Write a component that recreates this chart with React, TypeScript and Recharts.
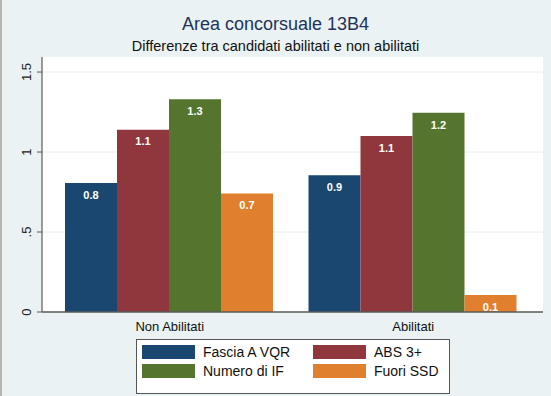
import React from 'react';
import { BarChart, Bar, XAxis, YAxis, CartesianGrid, LabelList } from 'recharts';

const categories = ['Non Abilitati', 'Abilitati'];
const fasciaA = [0.806, 0.855];
const abs3 = [1.14, 1.1];
const numeroIF = [1.33, 1.245];
const fuoriSSD = [0.74, 0.106];
const yTicks = [0, 0.5, 1, 1.5];
const yTickLabels = ['0', '.5', '1', '1.5'];

const seriesNames = ['Fascia A VQR', 'ABS 3+', 'Numero di IF', 'Fuori SSD'];
const seriesKeys = ['fasciaA', 'abs3', 'numeroIF', 'fuoriSSD'];
const seriesColors = ['#1a476f', '#8f373d', '#55752f', '#e07f2d'];

const data = categories.map((c, i) => ({
  cat: c,
  fasciaA: fasciaA[i],
  abs3: abs3[i],
  numeroIF: numeroIF[i],
  fuoriSSD: fuoriSSD[i],
}));

const FONT = '"Liberation Sans", Arial, Helvetica, sans-serif';

const YTick = (props: any) => {
  const { y, payload } = props;
  const idx = yTicks.indexOf(payload.value);
  const label = idx >= 0 ? yTickLabels[idx] : String(payload.value);
  const bx = 31;
  return (
    <text
      x={bx}
      y={y}
      transform={`rotate(-90, ${bx}, ${y})`}
      textAnchor="middle"
      fontSize={13}
      fontFamily={FONT}
      fill="#222"
    >
      {label}
    </text>
  );
};

export default function App() {
  return (
    <div
      style={{
        position: 'fixed',
        left: 0,
        top: 0,
        width: 551,
        height: 396,
        background: '#eaf2f3',
        fontFamily: FONT,
        overflow: 'hidden',
      }}
    >
      <div style={{ position: 'absolute', left: 0, top: 0, width: 2, height: 396, background: '#b5b5b5' }} />
      <div
        style={{
          position: 'absolute',
          left: 0,
          width: 551,
          top: 14,
          textAlign: 'center',
          fontSize: 18,
          color: '#1f3359',
          lineHeight: '20px',
        }}
      >
        Area concorsuale 13B4
      </div>
      <div
        style={{
          position: 'absolute',
          left: 0,
          width: 551,
          top: 38,
          textAlign: 'center',
          fontSize: 14.5,
          color: '#111',
          lineHeight: '16px',
        }}
      >
        Differenze tra candidati abilitati e non abilitati
      </div>
      <div style={{ position: 'absolute', left: 42, top: 57, width: 501, height: 255, background: '#fff' }} />
      <div style={{ position: 'absolute', left: 0, top: 0 }}>
        <BarChart
          width={551}
          height={396}
          data={data}
          margin={{ top: 57, right: 8, bottom: 54, left: 0 }}
          barCategoryGap={17}
          barGap={0}
        >
          <CartesianGrid vertical={false} stroke="#e6eef1" strokeWidth={1} horizontalValues={[0.5, 1, 1.5]} />
          <XAxis
            dataKey="cat"
            height={30}
            padding={{ left: 6, right: 8 }}
            tickLine={false}
            axisLine={{ stroke: '#5a5a5a', strokeWidth: 1.5 }}
            tick={{ fontSize: 13, fill: '#111', fontFamily: FONT }}
            tickMargin={4}
            interval={0}
          />
          <YAxis
            width={42}
            domain={[0, 1.594]}
            ticks={yTicks}
            allowDataOverflow
            tickSize={5}
            tickLine={{ stroke: '#5a5a5a' }}
            axisLine={{ stroke: '#5a5a5a', strokeWidth: 1.2 }}
            tick={<YTick />}
          />
          {seriesKeys.map((k, i) => (
            <Bar key={k} dataKey={k} name={seriesNames[i]} fill={seriesColors[i]} isAnimationActive={false}>
              <LabelList
                dataKey={k}
                position="insideTop"
                offset={8}
                formatter={(v: any) => Number(v).toFixed(1)}
                style={{ fill: '#fff', fontSize: 11, fontWeight: 'bold', fontFamily: FONT }}
              />
            </Bar>
          ))}
        </BarChart>
      </div>
      <div
        style={{
          position: 'absolute',
          left: 136,
          top: 339,
          width: 312,
          height: 53,
          background: '#fff',
          border: '1px solid #555',
        }}
      >
        {seriesNames.map((n, i) => {
          const col = i % 2;
          const row = Math.floor(i / 2);
          return (
            <div
              key={n}
              style={{
                position: 'absolute',
                left: col === 0 ? 5 : 176,
                top: 5 + row * 19,
                height: 14,
                display: 'flex',
                alignItems: 'center',
              }}
            >
              <div style={{ width: 53, height: 14, background: seriesColors[i] }} />
              <span style={{ marginLeft: 8, fontSize: 14, color: '#111', lineHeight: '14px' }}>{n}</span>
            </div>
          );
        })}
      </div>
    </div>
  );
}
